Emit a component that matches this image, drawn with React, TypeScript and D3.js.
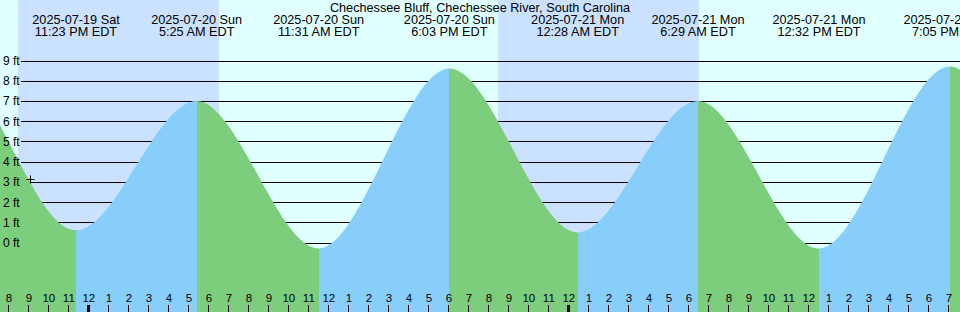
import { useRef, useEffect } from "react";
import * as d3 from "d3";

const title = "Chechessee Bluff, Chechessee River, South Carolina";

// tide extremes, EDT clock times (the first two and last two sit outside the view)
const tideTimes = [
  "2025-07-19 10:45",
  "2025-07-19 17:00",
  "2025-07-19 23:23",
  "2025-07-20 05:25",
  "2025-07-20 11:31",
  "2025-07-20 18:03",
  "2025-07-21 00:28",
  "2025-07-21 06:29",
  "2025-07-21 12:32",
  "2025-07-21 19:05",
  "2025-07-22 01:25",
  "2025-07-22 07:30",
];
const tideLevels = [0.0, 8.7, 0.6, 7.0, -0.3, 8.6, 0.5, 7.0, -0.3, 8.7, 0.4, 7.1];

// sunset -> sunrise
const nightStart = ["2025-07-19 20:29", "2025-07-20 20:30"];
const nightEnd = ["2025-07-20 06:32", "2025-07-21 06:32"];

const viewStart = "2025-07-19 19:35";
const viewEnd = "2025-07-21 19:35";

const levelTicks = [0, 1, 2, 3, 4, 5, 6, 7, 8, 9];

// current time marker
const nowTime = "2025-07-19 21:05";
const nowLevel = 3.15;

type Tide = { t: Date; v: number };

export default function App() {
  const ref = useRef<SVGSVGElement>(null);
  const width = 960;
  const height = 312;

  useEffect(() => {
    if (!ref.current) return;
    const svg = d3.select(ref.current);
    svg.selectAll("*").remove();

    const parse = d3.utcParse("%Y-%m-%d %H:%M");
    const tides: Tide[] = tideTimes.map((s, i) => ({
      t: parse(s) as Date,
      v: tideLevels[i],
    }));

    const x = d3
      .scaleUtc()
      .domain([parse(viewStart) as Date, parse(viewEnd) as Date])
      .range([0, width]);
    const y = d3.scaleLinear().domain([0, 9]).range([242.5, 60.5]);

    const font = "'Liberation Sans', Arial, sans-serif";

    // Background: day, then night bands
    svg
      .append("rect")
      .attr("width", width)
      .attr("height", height)
      .attr("fill", "#e0ffff");
    svg
      .append("g")
      .selectAll("rect")
      .data(nightStart)
      .join("rect")
      .attr("x", (d) => Math.round(x(parse(d) as Date)))
      .attr("y", 0)
      .attr("width", (d, i) =>
        Math.round(x(parse(nightEnd[i]) as Date)) -
        Math.round(x(parse(d) as Date)),
      )
      .attr("height", height)
      .attr("fill", "#cae1ff");

    // Grid lines (under the tide fill)
    svg
      .append("g")
      .selectAll("line")
      .data(levelTicks)
      .join("line")
      .attr("x1", 21)
      .attr("x2", width)
      .attr("y1", (d) => Math.round(y(d)) + 0.5)
      .attr("y2", (d) => Math.round(y(d)) + 0.5)
      .attr("stroke", "#000")
      .attr("stroke-width", 1);

    // Tide area, coloured by rising / falling segments
    const area = d3
      .area<Tide>()
      .x((d) => x(d.t))
      .y0(height)
      .y1((d) => y(d.v))
      .curve(d3.curveMonotoneX);

    const defs = svg.append("defs");
    const segs = d3.pairs(tides);
    segs.forEach(([a, b], i) => {
      const x0 = Math.max(0, Math.round(x(a.t)));
      const x1 = Math.min(width, Math.round(x(b.t)));
      if (x1 <= x0) return;
      defs
        .append("clipPath")
        .attr("id", `seg${i}`)
        .append("rect")
        .attr("x", x0)
        .attr("y", 0)
        .attr("width", x1 - x0)
        .attr("height", height);
      svg
        .append("path")
        .datum(tides)
        .attr("d", area)
        .attr("clip-path", `url(#seg${i})`)
        .attr("fill", b.v < a.v ? "#7ccd7c" : "#87cefa");
    });

    // Level labels
    svg
      .append("g")
      .selectAll("text")
      .data(levelTicks)
      .join("text")
      .attr("x", 3)
      .attr("y", (d) => y(d) + 4.5)
      .attr("font-family", font)
      .attr("font-size", 12)
      .attr("fill", "#000")
      .text((d) => `${d} ft`);

    // Title
    svg
      .append("text")
      .attr("x", width / 2)
      .attr("y", 11.5)
      .attr("text-anchor", "middle")
      .attr("font-family", font)
      .attr("font-size", 12.7)
      .text(title);

    // Extreme labels
    const fmtDay = d3.utcFormat("%Y-%m-%d %a");
    const fmtTime = d3.utcFormat("%-I:%M %p EDT");
    const shown = tides.filter((d) => x(d.t) >= 0 && x(d.t) <= width);
    const labels = svg
      .append("g")
      .selectAll("text")
      .data(shown)
      .join("text")
      .attr("text-anchor", "middle")
      .attr("font-family", font)
      .attr("font-size", 12.7)
      .attr("fill", "#000");
    labels
      .append("tspan")
      .attr("x", (d) => x(d.t))
      .attr("y", 24)
      .text((d) => fmtDay(d.t));
    labels
      .append("tspan")
      .attr("x", (d) => x(d.t))
      .attr("y", 35.7)
      .text((d) => fmtTime(d.t));

    // Hour axis at the bottom
    const hours = x.ticks(d3.utcHour.every(1) as d3.TimeInterval);
    const axis = svg.append("g");
    axis
      .selectAll("line")
      .data(hours)
      .join("line")
      .attr("x1", (d) => Math.round(x(d)) + 0.5)
      .attr("x2", (d) => Math.round(x(d)) + 0.5)
      .attr("y1", 305)
      .attr("y2", height)
      .attr("stroke", "#000")
      .attr("stroke-width", (d) => (d.getUTCHours() === 0 ? 3 : 1));
    axis
      .selectAll("text")
      .data(hours)
      .join("text")
      .attr("x", (d) => x(d) + 0.5)
      .attr("y", 301.5)
      .attr("text-anchor", "middle")
      .attr("font-family", font)
      .attr("font-size", 11.5)
      .attr("fill", "#000")
      .text(d3.utcFormat("%-I"));

    // Now marker
    const nx = Math.round(x(parse(nowTime) as Date)) + 0.5;
    const ny = Math.round(y(nowLevel)) + 0.5;
    svg
      .append("path")
      .attr("d", `M${nx - 4},${ny}H${nx + 4}M${nx},${ny - 4}V${ny + 4}`)
      .attr("stroke", "#000")
      .attr("stroke-width", 1)
      .attr("fill", "none");
  }, []);

  return (
    <svg
      ref={ref}
      width={width}
      height={height}
      style={{ position: "absolute", left: 0, top: 0 }}
    />
  );
}
